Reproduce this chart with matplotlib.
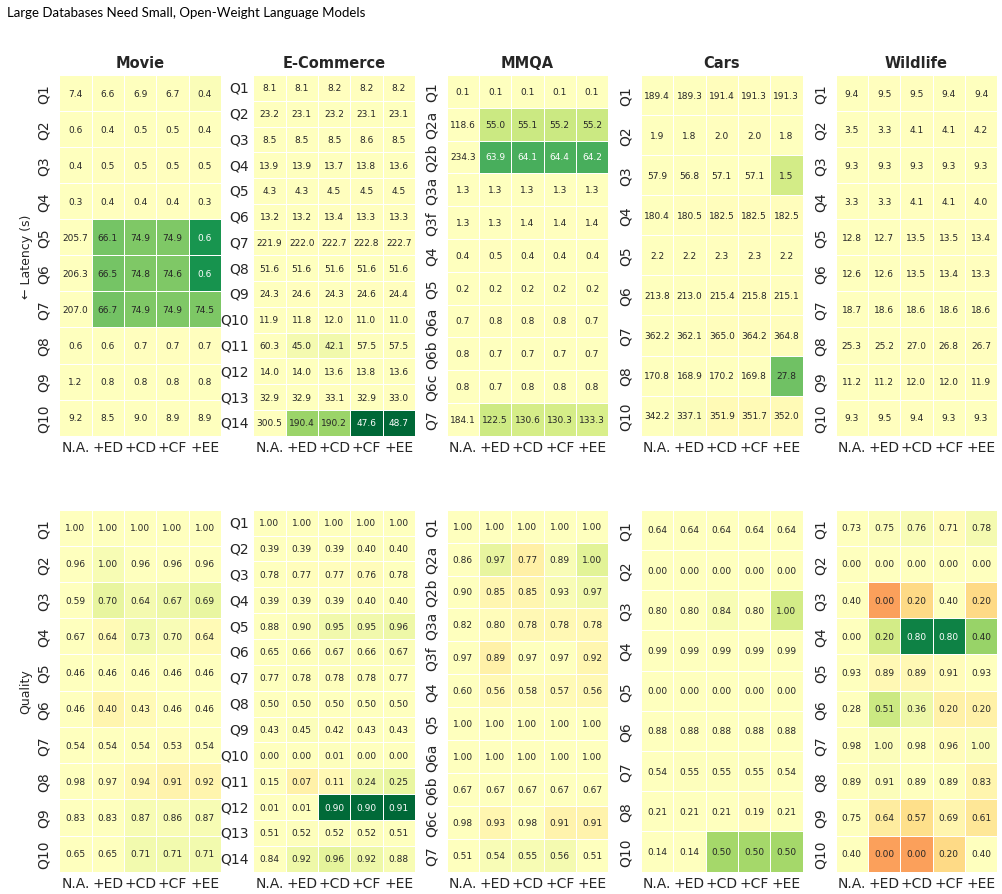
import numpy as np
import matplotlib
matplotlib.use("Agg")
import matplotlib.pyplot as plt
import seaborn as sns

methods = ["N.A.", "+ED", "+CD", "+CF", "+EE"]
datasets = ["Movie", "E-Commerce", "MMQA", "Cars", "Wildlife"]

movie_rows = ["Q1", "Q2", "Q3", "Q4", "Q5", "Q6", "Q7", "Q8", "Q9", "Q10"]
ecomm_rows = ["Q1", "Q2", "Q3", "Q4", "Q5", "Q6", "Q7", "Q8", "Q9", "Q10",
              "Q11", "Q12", "Q13", "Q14"]
mmqa_rows = ["Q1", "Q2a", "Q2b", "Q3a", "Q3f", "Q4", "Q5", "Q6a", "Q6b", "Q6c", "Q7"]
cars_rows = ["Q1", "Q2", "Q3", "Q4", "Q5", "Q6", "Q7", "Q8", "Q10"]
wild_rows = ["Q1", "Q2", "Q3", "Q4", "Q5", "Q6", "Q7", "Q8", "Q9", "Q10"]

# latency in seconds, columns = methods
movie_lat = [
    [7.4, 6.6, 6.9, 6.7, 0.4],
    [0.6, 0.4, 0.5, 0.5, 0.4],
    [0.4, 0.5, 0.5, 0.5, 0.5],
    [0.3, 0.4, 0.4, 0.4, 0.3],
    [205.7, 66.1, 74.9, 74.9, 0.6],
    [206.3, 66.5, 74.8, 74.6, 0.6],
    [207.0, 66.7, 74.9, 74.9, 74.5],
    [0.6, 0.6, 0.7, 0.7, 0.7],
    [1.2, 0.8, 0.8, 0.8, 0.8],
    [9.2, 8.5, 9.0, 8.9, 8.9],
]
ecomm_lat = [
    [8.1, 8.1, 8.2, 8.2, 8.2],
    [23.2, 23.1, 23.2, 23.1, 23.1],
    [8.5, 8.5, 8.5, 8.6, 8.5],
    [13.9, 13.9, 13.7, 13.8, 13.6],
    [4.3, 4.3, 4.5, 4.5, 4.5],
    [13.2, 13.2, 13.4, 13.3, 13.3],
    [221.9, 222.0, 222.7, 222.8, 222.7],
    [51.6, 51.6, 51.6, 51.6, 51.6],
    [24.3, 24.6, 24.3, 24.6, 24.4],
    [11.9, 11.8, 12.0, 11.0, 11.0],
    [60.3, 45.0, 42.1, 57.5, 57.5],
    [14.0, 14.0, 13.6, 13.8, 13.6],
    [32.9, 32.9, 33.1, 32.9, 33.0],
    [300.5, 190.4, 190.2, 47.6, 48.7],
]
mmqa_lat = [
    [0.1, 0.1, 0.1, 0.1, 0.1],
    [118.6, 55.0, 55.1, 55.2, 55.2],
    [234.3, 63.9, 64.1, 64.4, 64.2],
    [1.3, 1.3, 1.3, 1.3, 1.3],
    [1.3, 1.3, 1.4, 1.4, 1.4],
    [0.4, 0.5, 0.4, 0.4, 0.4],
    [0.2, 0.2, 0.2, 0.2, 0.2],
    [0.7, 0.8, 0.8, 0.8, 0.7],
    [0.8, 0.7, 0.7, 0.7, 0.7],
    [0.8, 0.7, 0.8, 0.8, 0.8],
    [184.1, 122.5, 130.6, 130.3, 133.3],
]
cars_lat = [
    [189.4, 189.3, 191.4, 191.3, 191.3],
    [1.9, 1.8, 2.0, 2.0, 1.8],
    [57.9, 56.8, 57.1, 57.1, 1.5],
    [180.4, 180.5, 182.5, 182.5, 182.5],
    [2.2, 2.2, 2.3, 2.3, 2.2],
    [213.8, 213.0, 215.4, 215.8, 215.1],
    [362.2, 362.1, 365.0, 364.2, 364.8],
    [170.8, 168.9, 170.2, 169.8, 27.8],
    [342.2, 337.1, 351.9, 351.7, 352.0],
]
wild_lat = [
    [9.4, 9.5, 9.5, 9.4, 9.4],
    [3.5, 3.3, 4.1, 4.1, 4.2],
    [9.3, 9.3, 9.3, 9.3, 9.3],
    [3.3, 3.3, 4.1, 4.1, 4.0],
    [12.8, 12.7, 13.5, 13.5, 13.4],
    [12.6, 12.6, 13.5, 13.4, 13.3],
    [18.7, 18.6, 18.6, 18.6, 18.6],
    [25.3, 25.2, 27.0, 26.8, 26.7],
    [11.2, 11.2, 12.0, 12.0, 11.9],
    [9.3, 9.5, 9.4, 9.3, 9.3],
]

# quality, columns = methods
movie_qual = [
    [1.00, 1.00, 1.00, 1.00, 1.00],
    [0.96, 1.00, 0.96, 0.96, 0.96],
    [0.59, 0.70, 0.64, 0.67, 0.69],
    [0.67, 0.64, 0.73, 0.70, 0.64],
    [0.46, 0.46, 0.46, 0.46, 0.46],
    [0.46, 0.40, 0.43, 0.46, 0.46],
    [0.54, 0.54, 0.54, 0.53, 0.54],
    [0.98, 0.97, 0.94, 0.91, 0.92],
    [0.83, 0.83, 0.87, 0.86, 0.87],
    [0.65, 0.65, 0.71, 0.71, 0.71],
]
ecomm_qual = [
    [1.00, 1.00, 1.00, 1.00, 1.00],
    [0.39, 0.39, 0.39, 0.40, 0.40],
    [0.78, 0.77, 0.77, 0.76, 0.78],
    [0.39, 0.39, 0.39, 0.40, 0.40],
    [0.88, 0.90, 0.95, 0.95, 0.96],
    [0.65, 0.66, 0.67, 0.66, 0.67],
    [0.77, 0.78, 0.78, 0.78, 0.77],
    [0.50, 0.50, 0.50, 0.50, 0.50],
    [0.43, 0.45, 0.42, 0.43, 0.43],
    [0.00, 0.00, 0.01, 0.00, 0.00],
    [0.15, 0.07, 0.11, 0.24, 0.25],
    [0.01, 0.01, 0.90, 0.90, 0.91],
    [0.51, 0.52, 0.52, 0.52, 0.51],
    [0.84, 0.92, 0.96, 0.92, 0.88],
]
mmqa_qual = [
    [1.00, 1.00, 1.00, 1.00, 1.00],
    [0.86, 0.97, 0.77, 0.89, 1.00],
    [0.90, 0.85, 0.85, 0.93, 0.97],
    [0.82, 0.80, 0.78, 0.78, 0.78],
    [0.97, 0.89, 0.97, 0.97, 0.92],
    [0.60, 0.56, 0.58, 0.57, 0.56],
    [1.00, 1.00, 1.00, 1.00, 1.00],
    [1.00, 1.00, 1.00, 1.00, 1.00],
    [0.67, 0.67, 0.67, 0.67, 0.67],
    [0.98, 0.93, 0.98, 0.91, 0.91],
    [0.51, 0.54, 0.55, 0.56, 0.51],
]
cars_qual = [
    [0.64, 0.64, 0.64, 0.64, 0.64],
    [0.00, 0.00, 0.00, 0.00, 0.00],
    [0.80, 0.80, 0.84, 0.80, 1.00],
    [0.99, 0.99, 0.99, 0.99, 0.99],
    [0.00, 0.00, 0.00, 0.00, 0.00],
    [0.88, 0.88, 0.88, 0.88, 0.88],
    [0.54, 0.55, 0.55, 0.55, 0.54],
    [0.21, 0.21, 0.21, 0.19, 0.21],
    [0.14, 0.14, 0.50, 0.50, 0.50],
]
wild_qual = [
    [0.73, 0.75, 0.76, 0.71, 0.78],
    [0.00, 0.00, 0.00, 0.00, 0.00],
    [0.40, 0.00, 0.20, 0.40, 0.20],
    [0.00, 0.20, 0.80, 0.80, 0.40],
    [0.93, 0.89, 0.89, 0.91, 0.93],
    [0.28, 0.51, 0.36, 0.20, 0.20],
    [0.98, 1.00, 0.98, 0.96, 1.00],
    [0.89, 0.91, 0.89, 0.89, 0.83],
    [0.75, 0.64, 0.57, 0.69, 0.61],
    [0.40, 0.00, 0.00, 0.20, 0.40],
]

rows_all = [movie_rows, ecomm_rows, mmqa_rows, cars_rows, wild_rows]
lat_all = [np.array(a) for a in (movie_lat, ecomm_lat, mmqa_lat, cars_lat, wild_lat)]
qual_all = [np.array(a) for a in (movie_qual, ecomm_qual, mmqa_qual, cars_qual, wild_qual)]

# colour = improvement over N.A. (lower latency / higher quality is green)
lat_diff = [a[:, [0]] - a for a in lat_all]
qual_diff = [a - a[:, [0]] for a in qual_all]
lat_max = max(np.abs(d).max() for d in lat_diff)
qual_max = max(np.abs(d).max() for d in qual_diff)

plt.rcParams["text.color"] = ".15"
plt.rcParams["axes.labelcolor"] = ".15"
plt.rcParams["xtick.color"] = ".15"
plt.rcParams["ytick.color"] = ".15"

fig = plt.figure(figsize=(10.02, 8.95), dpi=100)
fig.text(0.007, 1 - 17.3 / 895, "Large Databases Need Small, Open-Weight Language Models",
         fontsize=9.5, family="Lato", color="black", va="baseline")

lefts = [0.0592, 0.2528, 0.4458, 0.6397, 0.834]
w = 0.1612
rows_pos = [(0.5121, 0.403), (0.0249, 0.4045)]

for r, (vals, diffs, vmax, fmt, ylab) in enumerate([
        (lat_all, lat_diff, lat_max, ".1f", "\u2190 Latency (s)"),
        (qual_all, qual_diff, qual_max, ".2f", "Quality")]):
    b, h = rows_pos[r]
    for i in range(5):
        ax = fig.add_axes([lefts[i], b, w, h])
        sns.heatmap(diffs[i], annot=vals[i], fmt=fmt, cmap="RdYlGn", center=0,
                    vmin=-vmax, vmax=vmax, linewidths=0.5, linecolor="white",
                    cbar=False, ax=ax, annot_kws={"size": 6.5})
        ax.set_xticklabels(methods, rotation=0, fontsize=10)
        horiz = len(rows_all[i]) > 12
        ax.set_yticklabels(rows_all[i], rotation=0 if horiz else 90, va="center",
                           fontsize=10)
        ax.tick_params(axis="x", length=0, pad=3)
        ax.tick_params(axis="y", length=0, pad=3 if horiz else 6)
        if r == 0:
            ax.set_title(datasets[i], fontsize=10.5, fontweight="bold", pad=6)
        if i == 0:
            ax.set_ylabel(ylab, fontsize=9)
            ax.yaxis.set_label_coords(-0.165, 0.5)

fig.savefig("out.png", dpi=100)
